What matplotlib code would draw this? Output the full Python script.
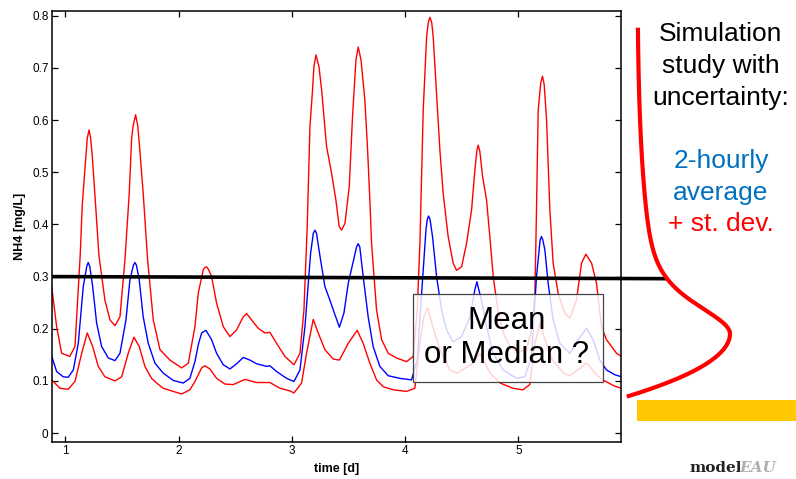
import numpy as np
import matplotlib
matplotlib.use("Agg")
import matplotlib.pyplot as plt
from matplotlib.patches import Rectangle

plt.rcParams['font.family'] = ['Liberation Sans', 'DejaVu Sans']

# ---------------- data ----------------
t_upper = [0.88, 0.924, 0.968, 1.04, 1.086, 1.132, 1.15, 1.183, 1.194, 1.21, 1.224, 1.238, 1.268,
           1.297, 1.35, 1.395, 1.439, 1.483, 1.527, 1.565, 1.586, 1.60, 1.621, 1.639, 1.65, 1.688,
           1.727, 1.777, 1.836, 1.924, 2.027, 2.086, 2.145, 2.174, 2.218, 2.235, 2.253, 2.27, 2.292,
           2.336, 2.395, 2.454, 2.513, 2.571, 2.601, 2.645, 2.703, 2.763, 2.807, 2.866, 2.939, 3.019,
           3.072, 3.107, 3.136, 3.16, 3.183, 3.195, 3.213, 3.24, 3.263, 3.307, 3.351, 3.389, 3.418,
           3.439, 3.469, 3.507, 3.536, 3.566, 3.586, 3.611, 3.645, 3.669, 3.689, 3.704, 3.748, 3.793,
           3.851, 3.925, 4.013, 4.072, 4.107, 4.131, 4.16, 4.19, 4.205, 4.219, 4.235, 4.248, 4.278,
           4.307, 4.336, 4.38, 4.424, 4.454, 4.499, 4.543, 4.587, 4.616, 4.633, 4.645, 4.66, 4.684,
           4.719, 4.748, 4.778, 4.82, 4.87, 4.93, 5.0, 5.07, 5.12, 5.146, 5.16, 5.175, 5.198, 5.213,
           5.228, 5.249, 5.278, 5.307, 5.351, 5.41, 5.454, 5.513, 5.558, 5.596, 5.646, 5.69, 5.734,
           5.778, 5.867, 5.911]
upper = [0.281, 0.204, 0.153, 0.147, 0.166, 0.341, 0.437, 0.533, 0.565, 0.581, 0.565, 0.533, 0.437,
         0.341, 0.255, 0.217, 0.206, 0.223, 0.332, 0.46, 0.565, 0.59, 0.61, 0.59, 0.565, 0.46,
         0.332, 0.217, 0.16, 0.14, 0.125, 0.134, 0.204, 0.268, 0.313, 0.318, 0.318, 0.311, 0.30,
         0.249, 0.204, 0.185, 0.198, 0.223, 0.229, 0.217, 0.201, 0.192, 0.193, 0.172, 0.147, 0.131,
         0.153, 0.236, 0.396, 0.587, 0.658, 0.702, 0.725, 0.702, 0.658, 0.549, 0.498, 0.447, 0.396,
         0.389, 0.402, 0.472, 0.607, 0.715, 0.74, 0.715, 0.638, 0.543, 0.447, 0.364, 0.236, 0.179,
         0.153, 0.144, 0.137, 0.147, 0.236, 0.364, 0.619, 0.76, 0.787, 0.797, 0.787, 0.76, 0.651,
         0.543, 0.46, 0.377, 0.326, 0.312, 0.319, 0.364, 0.428, 0.504, 0.54, 0.552, 0.54, 0.492,
         0.447, 0.377, 0.30, 0.235, 0.19, 0.165, 0.155, 0.16, 0.2, 0.268, 0.428, 0.619, 0.672, 0.684,
         0.668, 0.60, 0.428, 0.326, 0.268, 0.23, 0.22, 0.255, 0.326, 0.343, 0.326, 0.287, 0.204,
         0.179, 0.153, 0.147]

t_mean = [0.88, 0.924, 0.982, 1.026, 1.071, 1.115, 1.159, 1.19, 1.203, 1.216, 1.242, 1.277, 1.321,
          1.38, 1.439, 1.483, 1.536, 1.571, 1.602, 1.615, 1.628, 1.653, 1.688, 1.733, 1.792, 1.865,
          1.953, 2.041, 2.10, 2.145, 2.175, 2.204, 2.242, 2.292, 2.336, 2.395, 2.454, 2.513, 2.571,
          2.63, 2.689, 2.777, 2.807, 2.866, 2.954, 3.019, 3.072, 3.116, 3.166, 3.19, 3.204, 3.218,
          3.248, 3.292, 3.336, 3.371, 3.42, 3.46, 3.498, 3.572, 3.586, 3.6, 3.63, 3.674, 3.718,
          3.777, 3.851, 3.954, 4.057, 4.107, 4.146, 4.184, 4.196, 4.207, 4.22, 4.242, 4.278, 4.322,
          4.366, 4.424, 4.499, 4.572, 4.616, 4.634, 4.673, 4.719, 4.778, 4.866, 4.984, 5.057, 5.116,
          5.16, 5.192, 5.204, 5.216, 5.234, 5.263, 5.307, 5.366, 5.454, 5.528, 5.602, 5.66, 5.719,
          5.778, 5.85, 5.91]
mean = [0.148, 0.118, 0.108, 0.107, 0.121, 0.172, 0.281, 0.32, 0.327, 0.32, 0.281, 0.211, 0.166,
        0.144, 0.139, 0.153, 0.217, 0.294, 0.322, 0.327, 0.322, 0.294, 0.223, 0.172, 0.134, 0.115,
        0.101, 0.096, 0.105, 0.137, 0.17, 0.192, 0.197, 0.179, 0.153, 0.131, 0.123, 0.133, 0.145,
        0.14, 0.133, 0.128, 0.129, 0.118, 0.105, 0.099, 0.121, 0.204, 0.345, 0.383, 0.389, 0.383,
        0.34, 0.281, 0.255, 0.233, 0.203, 0.23, 0.287, 0.357, 0.363, 0.357, 0.30, 0.223, 0.166,
        0.128, 0.11, 0.105, 0.102, 0.14, 0.268, 0.389, 0.41, 0.416, 0.41, 0.377, 0.30, 0.236,
        0.198, 0.175, 0.185, 0.223, 0.275, 0.29, 0.255, 0.204, 0.153, 0.121, 0.105, 0.108, 0.147,
        0.30, 0.37, 0.377, 0.37, 0.351, 0.287, 0.217, 0.172, 0.153, 0.179, 0.201, 0.179, 0.14,
        0.121, 0.112, 0.108]

t_lower = [0.88, 0.953, 1.026, 1.086, 1.145, 1.194, 1.242, 1.291, 1.35, 1.439, 1.498, 1.556, 1.606,
           1.653, 1.703, 1.762, 1.807, 1.865, 1.953, 2.027, 2.10, 2.145, 2.204, 2.233, 2.277, 2.336,
           2.41, 2.483, 2.586, 2.689, 2.807, 2.895, 2.983, 3.019, 3.086, 3.13, 3.189, 3.233, 3.292,
           3.365, 3.42, 3.498, 3.577, 3.63, 3.689, 3.748, 3.807, 3.895, 4.013, 4.086, 4.131, 4.166,
           4.2, 4.25, 4.307, 4.396, 4.46, 4.6, 4.66, 4.75, 4.84, 4.95, 5.04, 5.1, 5.146, 5.19, 5.25,
           5.3, 5.4, 5.45, 5.55, 5.6, 5.7, 5.745, 5.85, 5.91]
lower = [0.102, 0.086, 0.084, 0.099, 0.153, 0.192, 0.166, 0.128, 0.108, 0.10, 0.108, 0.153, 0.184,
         0.166, 0.128, 0.105, 0.096, 0.086, 0.080, 0.075, 0.083, 0.099, 0.125, 0.129, 0.123, 0.105,
         0.094, 0.093, 0.103, 0.097, 0.097, 0.086, 0.081, 0.077, 0.096, 0.153, 0.218, 0.192, 0.16,
         0.142, 0.14, 0.172, 0.197, 0.172, 0.134, 0.102, 0.089, 0.083, 0.080, 0.086, 0.172, 0.223,
         0.24, 0.2, 0.16, 0.121, 0.115, 0.134, 0.153, 0.115, 0.096, 0.086, 0.083, 0.093, 0.172, 0.21,
         0.17, 0.14, 0.115, 0.11, 0.125, 0.135, 0.11, 0.102, 0.09, 0.086]

threshold = 0.3
x_ticks = [1, 2, 3, 4, 5]
x_tick_labels = ['1', '2', '3', '4', '5']
y_ticks = [0, 0.1, 0.2, 0.3, 0.4, 0.5, 0.6, 0.7, 0.8]
y_tick_labels = ['0', '0.1', '0.2', '0.3', '0.4', '0.5', '0.6', '0.7', '0.8']

# ---------------- figure ----------------
W, H = 796, 479
fig = plt.figure(figsize=(W / 100, H / 100), dpi=100)
fig.patch.set_facecolor('white')


def fx(px):
    return px / W


def fy(py):
    return 1 - py / H


ax = fig.add_axes([fx(52), fy(442), 569 / W, 431 / H])
for tt, vv, col in [(t_upper, upper, '#ff0000'), (t_mean, mean, '#0000ff'),
                    (t_lower, lower, '#ff0000')]:
    ax.plot(tt, vv, color=col, lw=1.0, zorder=2, solid_joinstyle='round')
ax.set_xlim(0.883, 5.906)
ax.set_ylim(-0.017, 0.809)
ax.set_xticks(x_ticks, x_tick_labels)
ax.set_yticks(y_ticks, y_tick_labels)
ax.tick_params(direction='in', top=True, right=True, length=4, width=0.9,
               labelsize=8.5, pad=2.5)
for s in ax.spines.values():
    s.set_linewidth(1.1)
ax.set_xlabel('time [d]', fontsize=9, fontweight='bold', labelpad=4)
ax.set_ylabel('NH4 [mg/L]', fontsize=9, fontweight='bold', labelpad=4)

# threshold line extending out to the distribution sketch
ax.plot([0.883, 6.32], [threshold, threshold - 0.004], color='black', lw=2.6,
        clip_on=False, zorder=6, solid_capstyle='butt')

# "Mean or Median ?" box
ax.add_patch(Rectangle((fx(413), fy(382)), (603 - 413) / W, (382 - 294) / H,
                       transform=fig.transFigure, facecolor='white', alpha=0.82,
                       edgecolor='none', zorder=7))
ax.add_patch(Rectangle((fx(413), fy(382)), (603 - 413) / W, (382 - 294) / H,
                       transform=fig.transFigure, facecolor='none',
                       edgecolor='#444444', lw=0.9, zorder=8))
fig.text(fx(507), fy(338), 'Mean\nor Median ?', ha='center', va='center',
         fontsize=22.5, color='black', zorder=9, linespacing=1.15)

# distribution sketch on the right
ax2 = fig.add_axes([fx(622), fy(442), 174 / W, 431 / H], zorder=5)
ax2.set_xlim(0, 174)
ax2.set_ylim(-0.017, 0.809)
ax2.axis('off')
ax2.patch.set_alpha(0)
v = np.linspace(0.07, 0.777, 400)
vm = 0.19
u = np.log(v / vm)
ratio = np.where(v >= vm,
                 0.7 * np.exp(-u ** 2 / (2 * 0.24 ** 2)) + 0.3 * np.exp(-u ** 2 / (2 * 0.7 ** 2)),
                 1 - ((vm - v) / 0.12) ** 2)
xcurve = 6 + 10 * (v - vm) + 102 * ratio
ax2.plot(xcurve, v, color='#ff0000', lw=3.0, solid_capstyle='butt')

# right-hand texts
for txt, yb, col in [('Simulation', 41, 'black'), ('study with', 73, 'black'),
                     ('uncertainty:', 105, 'black'), ('2-hourly', 168, '#0070c0'),
                     ('average', 200, '#0070c0'), ('+ st. dev.', 231, '#ff0000')]:
    fig.text(fx(721), fy(yb), txt, ha='center', va='baseline', fontsize=19, color=col)

# gold bar
fig.patches.append(Rectangle((fx(637), fy(421)), (796 - 637) / W, 21 / H,
                             transform=fig.transFigure, facecolor='#ffc800',
                             edgecolor='none', figure=fig))

# logo text
fig.text(fx(690), fy(472), 'model', ha='left', va='baseline', fontsize=11,
         fontweight='bold', family=['DejaVu Serif'], color='#222222')
fig.text(fx(739), fy(472), 'EAU', ha='left', va='baseline', fontsize=11,
         fontweight='bold', style='italic', family=['DejaVu Serif'], color='#b0b0b0')

fig.savefig('out.png', dpi=100, facecolor='white')
